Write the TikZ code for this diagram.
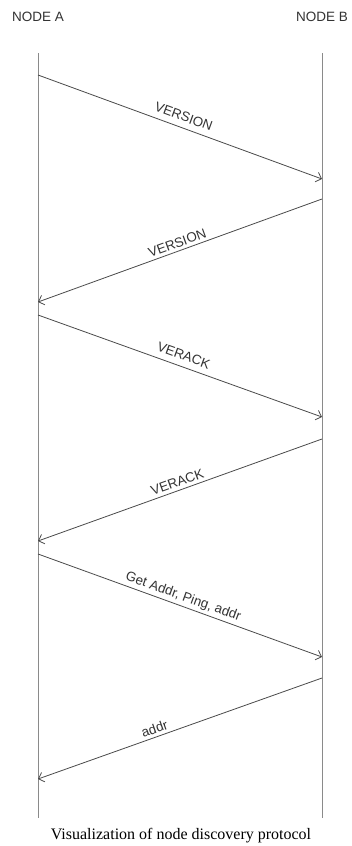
\documentclass[tikz,border=0pt]{standalone}
\usepackage{fontspec}
\setmainfont{Liberation Serif}
\setsansfont{Liberation Sans}
\usetikzlibrary{arrows.meta}
\definecolor{lifegray}{HTML}{8A8A8A}
\definecolor{msggray}{HTML}{4A4A4A}
\definecolor{txtgray}{HTML}{333333}
\begin{document}
\begin{tikzpicture}[x=1pt,y=-1pt,
  lifeline/.style={draw=lifegray,line width=0.9pt},
  msg/.style={draw=msggray,line width=0.8pt,-{Straight Barb[length=5pt,width=10pt,line width=0.8pt]}},
  msglabel/.style={font=\sffamily\fontsize{13.4}{15}\selectfont,text=txtgray,sloped,above,inner sep=3pt},
  head/.style={font=\sffamily\fontsize{13.5}{16}\selectfont,text=txtgray,inner sep=0pt},
  caption/.style={font=\rmfamily\fontsize{16}{18}\selectfont,text=black,inner sep=0pt}]
\useasboundingbox[fill=white] (0,0) rectangle (351,846);
\node[head] (na) at (38,17) {NODE A};
\node[head] (nb) at (322,17) {NODE B};
\coordinate (At) at (38,53);
\coordinate (Ab) at (38,818);
\coordinate (Bt) at (322,53);
\coordinate (Bb) at (322,818);
\draw[lifeline] (At) -- (Ab);
\draw[lifeline] (Bt) -- (Bb);
\coordinate (a1) at (38,75);   \coordinate (b1) at (322,179);
\coordinate (b2) at (322,199); \coordinate (a2) at (38,302);
\coordinate (a3) at (38,315);  \coordinate (b3) at (322,417);
\coordinate (b4) at (322,439); \coordinate (a4) at (38,541);
\coordinate (a5) at (38,554);  \coordinate (b5) at (322,657);
\coordinate (b6) at (322,678); \coordinate (a6) at (38,779);
\draw[msg] (a1) -- node[msglabel,inner sep=6pt] {VERSION} (b1);
\draw[msg] (b2) -- node[msglabel] {VERSION} (a2);
\draw[msg] (a3) -- node[msglabel,inner sep=6pt] {VERACK} (b3);
\draw[msg] (b4) -- node[msglabel] {VERACK} (a4);
\draw[msg] (a5) -- node[msglabel,inner sep=2.5pt] {Get Addr, Ping, addr} (b5);
\draw[msg] (b6) -- node[msglabel,pos=0.58] {addr} (a6);
\node[caption] (cap) at (181,836) {Visualization of node discovery protocol};
\end{tikzpicture}
\end{document}
